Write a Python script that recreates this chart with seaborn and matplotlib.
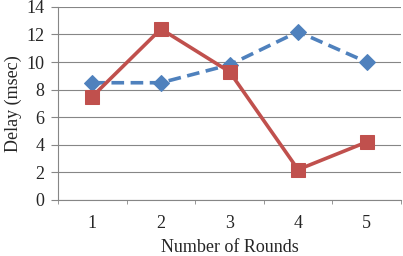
import pandas as pd
import matplotlib.pyplot as plt
import seaborn as sns
import numpy as np

# Data
rounds = [1, 2, 3, 4, 5]
blue_delay = [8.5, 8.5, 9.8, 12.2, 10.0]
red_delay = [7.5, 12.4, 9.3, 2.2, 4.2]

df_blue = pd.DataFrame({"round": rounds, "delay": blue_delay})
df_red = pd.DataFrame({"round": rounds, "delay": red_delay})

sns.set_style("white")
plt.rcParams["font.family"] = ["Liberation Serif", "DejaVu Serif"]

fig = plt.figure(figsize=(4.03, 2.56), dpi=100)
ax = fig.add_axes([0.144, 0.219, 0.851, 0.754])

sns.lineplot(data=df_blue, x="round", y="delay", ax=ax, color="#4F81BD",
             linewidth=2.6, linestyle=(0, (3.5, 1.8)), marker="D", markersize=8,
             markeredgecolor="#4F81BD", zorder=3)
sns.lineplot(data=df_red, x="round", y="delay", ax=ax, color="#C0504D",
             linewidth=2.6, marker="s", markersize=10,
             markeredgecolor="#C0504D", zorder=4)

ax.set_xlim(0.5, 5.5)
ax.set_ylim(0, 14)
ax.set_yticks(np.arange(0, 15, 2))
ax.set_xticks(rounds)
ax.set_xticks(np.arange(0.5, 5.6, 1), minor=True)
ax.yaxis.grid(True, color="#868686", linewidth=0.8)
ax.set_axisbelow(True)

for side in ["top", "right"]:
    ax.spines[side].set_visible(False)
for side in ["left", "bottom"]:
    ax.spines[side].set_color("#868686")
    ax.spines[side].set_linewidth(0.8)

ax.tick_params(axis="x", which="major", length=0, pad=11, labelsize=13)
ax.tick_params(axis="x", which="minor", length=3, color="#868686", direction="out")
ax.tick_params(axis="y", length=5, color="#868686", direction="out", labelsize=13, pad=5)
ax.tick_params(bottom=True, left=True, which="both")

ax.set_xlabel("Number of Rounds", fontsize=13, labelpad=5)
ax.set_ylabel("Delay (msec)", fontsize=13, labelpad=3)

fig.savefig("out.png", dpi=100)
